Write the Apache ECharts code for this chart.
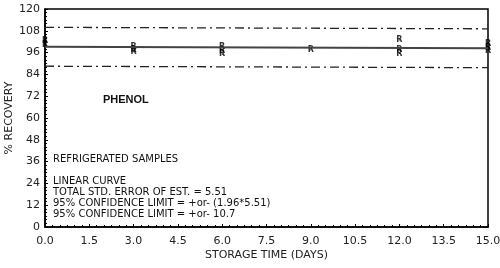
<!DOCTYPE html>
<html><head><meta charset="utf-8">
<script src="https://cdn.jsdelivr.net/npm/echarts@6/dist/echarts.min.js"></script>
<style>html,body{margin:0;padding:0;background:#fff}#c{width:500px;height:268px}</style>
</head><body><div id="c"></div>
<script>
var xTicks = [0, 1.5, 3, 4.5, 6, 7.5, 9, 10.5, 12, 13.5, 15];
var yTicks = [0, 12, 24, 36, 48, 60, 72, 84, 96, 108, 120];
var sampleDays = [0, 0, 3, 3, 3, 6, 6, 6, 9, 12, 12, 12, 15, 15, 15];
var sampleRecovery = [102.5, 100, 99, 97.5, 96.5, 99, 97, 95, 97.5, 103, 97.5, 95.5, 101, 98.5, 97];
var fitDays = [0, 15];
var fitRecovery = [99.2, 98.4];
var confLimit = 10.7;
var notes = ['REFRIGERATED SAMPLES', '', 'LINEAR CURVE', 'TOTAL STD. ERROR OF EST. = 5.51', '95% CONFIDENCE LIMIT = +or- (1.96*5.51)', '95% CONFIDENCE LIMIT = +or- 10.7'];
var title = 'PHENOL';

var upper = fitDays.map(function(d,i){return [d, fitRecovery[i]+confLimit];});
var lower = fitDays.map(function(d,i){return [d, fitRecovery[i]-confLimit];});
var fit = fitDays.map(function(d,i){return [d, fitRecovery[i]];});
var pts = sampleDays.map(function(d,i){return [d, sampleRecovery[i]];});

var chart = echarts.init(document.getElementById('c'));
var font = 'DejaVu Sans';
chart.setOption({
  animation:false,
  grid:{left:45,right:12,top:9,bottom:41,show:true,borderColor:'#000',borderWidth:1.5,containLabel:false,outerBoundsMode:'none'},
  xAxis:{type:'value',min:0,max:15,interval:1.5,
    name:'STORAGE TIME (DAYS)',nameLocation:'middle',nameGap:23,nameMoveOverlap:false,
    nameTextStyle:{fontFamily:font,fontSize:11,color:'#222'},
    axisLine:{lineStyle:{color:'#000',width:1.5}},
    axisTick:{show:true,inside:true,length:3,lineStyle:{color:'#000'}},
    minorTick:{show:true,splitNumber:6,length:2,lineStyle:{color:'#000'}},
    splitLine:{show:false},
    axisLabel:{fontFamily:font,fontSize:11,color:'#222',margin:9,formatter:function(v){return v.toFixed(1);}}},
  yAxis:{type:'value',min:0,max:120,interval:12,
    name:'% RECOVERY',nameLocation:'middle',nameGap:30,nameRotate:90,nameMoveOverlap:false,
    nameTextStyle:{fontFamily:font,fontSize:11,color:'#222'},
    axisLine:{lineStyle:{color:'#000',width:1.5}},
    axisTick:{show:true,inside:true,length:3,lineStyle:{color:'#000'}},
    minorTick:{show:true,splitNumber:6,length:2,lineStyle:{color:'#000'}},
    splitLine:{show:false},
    axisLabel:{fontFamily:font,fontSize:11,color:'#222',margin:5}},
  graphic:[
    {type:'text',left:103,top:94,style:{text:title,font:'bold 11px "Liberation Sans"',fill:'#111'}},
    {type:'text',left:53,top:154,style:{text:notes.join('\n'),font:'10px "DejaVu Sans"',fill:'#111',lineHeight:11}}
  ],
  series:[
    {type:'line',data:fit,symbol:'none',lineStyle:{color:'#444',width:2}},
    {type:'line',data:upper,symbol:'none',lineStyle:{color:'#222',width:1.3,type:[9,4,2,4]}},
    {type:'line',data:lower,symbol:'none',lineStyle:{color:'#222',width:1.3,type:[9,4,2,4]}},
    {type:'scatter',data:pts,symbol:'rect',symbolSize:1,itemStyle:{color:'#000'},
      label:{show:true,position:'inside',formatter:'R',fontFamily:font,fontSize:8,fontWeight:'bold',color:'#000'}}
  ]
});
</script></body></html>
